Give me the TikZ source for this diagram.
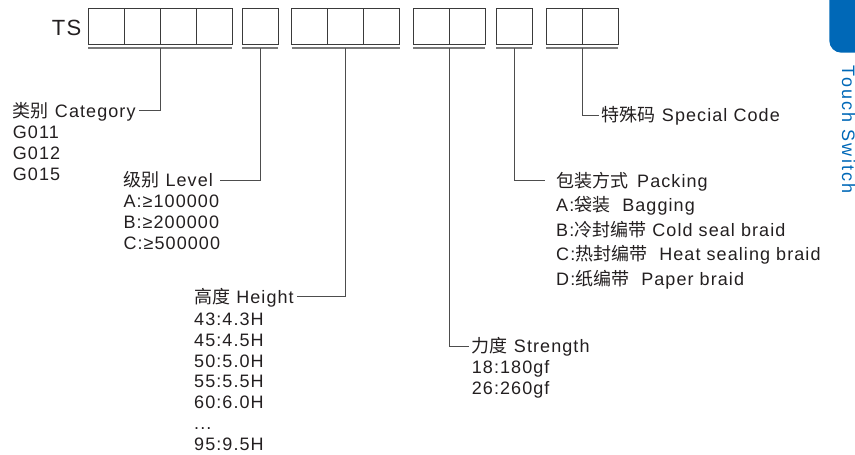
\documentclass[tikz,border=0pt]{standalone}
\usepackage{fontspec}
\setmainfont{Liberation Sans}[LetterSpace=6]
\newfontfamily\cjk{Noto Sans CJK SC}
\newfontfamily\tabfont{Liberation Sans}[LetterSpace=12]
\newcommand{\zh}[1]{{\cjk #1}}
\newcommand{\wgap}{\hspace{12pt}}
\usetikzlibrary{positioning}
\definecolor{ink}{HTML}{231F20}
\definecolor{boxline}{HTML}{3A3A3A}
\definecolor{rulegray}{HTML}{7A7A7A}
\definecolor{leadgray}{HTML}{4D4D4D}
\definecolor{tabblue}{HTML}{0068B7}

\begin{document}
\begin{tikzpicture}[x=1pt, y=-1pt,
    cell/.style={draw=boxline, line width=1pt, minimum width=36pt, minimum height=36pt, inner sep=0pt, outer sep=0pt},
    uline/.style={draw=rulegray, line width=1.3pt},
    leader/.style={draw=leadgray, line width=0.9pt, shorten >=3pt},
    title/.style={font=\fontsize{18}{20.7}\selectfont, text=ink, inner sep=0pt, text height=13pt, text depth=0pt, anchor=base west},
    items/.style={font=\fontsize{18}{20.7}\selectfont, text=ink, inner sep=0pt, align=left, anchor=base west}]
    \useasboundingbox (0,0) rectangle (855,455);

    % blue tab
    \fill[tabblue] (855,0) -- (829.3,0) -- (829.3,40.7) arc[start angle=180, end angle=270, radius=12pt] -- (855,52.7) -- cycle;
    \node[rotate=-90, anchor=base, inner sep=0pt, text=tabblue, font=\tabfont\fontsize{18}{20}\selectfont] (tab) at (842,129.7) {Touch Switch};

    % code boxes
    \node[anchor=base west, inner sep=0pt, text=ink, font=\fontsize{22}{24}\selectfont] (ts) at (51.7,35.7) {TS};

    \node[cell] (c1a) at (106.3,26) {};
    \node[cell, right=0pt of c1a] (c1b) {};
    \node[cell, right=0pt of c1b] (c1c) {};
    \node[cell, right=0pt of c1c] (c1d) {};

    \node[cell] (c2a) at (260.3,26) {};

    \node[cell] (c3a) at (309.7,26) {};
    \node[cell, right=0pt of c3a] (c3b) {};
    \node[cell, right=0pt of c3b] (c3c) {};

    \node[cell] (c4a) at (431.3,26) {};
    \node[cell, right=0pt of c4a] (c4b) {};

    \node[cell] (c5a) at (514.3,26) {};

    \node[cell] (c6a) at (564,26) {};
    \node[cell, right=0pt of c6a] (c6b) {};

    \draw[uline] ([yshift=-4pt]c1a.south west) -- ([yshift=-4pt]c1d.south east);
    \draw[uline] ([yshift=-4pt]c2a.south west) -- ([yshift=-4pt]c2a.south east);
    \draw[uline] ([yshift=-4pt]c3a.south west) -- ([yshift=-4pt]c3c.south east);
    \draw[uline] ([yshift=-4pt]c4a.south west) -- ([yshift=-4pt]c4b.south east);
    \draw[uline] ([yshift=-4pt]c5a.south west) -- ([yshift=-4pt]c5a.south east);
    \draw[uline] ([yshift=-4pt]c6a.south west) -- ([yshift=-4pt]c6b.south east);

    % fields (lists sit on the baseline of their last line)
    \node[title] (cat) at (12.7,117.3) {\zh{类别} Category};
    \node[items] (catlist) at (12.7,180) {G011\\G012\\G015};

    \node[title] (lev) at (123.3,186.7) {\zh{级别} Level};
    \node[items] (levlist) at (123.3,249) {A:≥100000\\B:≥200000\\C:≥500000};

    \node[title] (hgt) at (194,303.3) {\zh{高度} Height};
    \node[items] (hgtlist) at (194,450) {43:4.3H\\45:4.5H\\50:5.0H\\55:5.5H\\60:6.0H\\...\\95:9.5H};

    \node[title] (str) at (471.7,352.7) {\zh{力度} Strength};
    \node[items] (strlist) at (471.7,394) {18:180gf\\26:260gf};

    \node[title] (pack) at (556,187.3) {\zh{包装方式}\hspace{9pt}Packing};
    \node[items, font=\fontsize{18}{24.4}\selectfont] (packlist) at (556,285) {A:\zh{袋装}\wgap Bagging\\B:\zh{冷封编带} Cold seal braid\\C:\zh{热封编带}\wgap Heat sealing braid\\D:\zh{纸编带}\wgap Paper braid};

    \node[title] (spec) at (601.7,121.7) {\zh{特殊码} Special Code};

    \draw[leader] ([yshift=-4pt]c1b.south east) |- (cat.east);
    \draw[leader, shorten >=7pt] ([yshift=-4pt]c2a.south) |- (lev.east);
    \draw[leader] ([yshift=-4pt]c3b.south) |- (hgt.east);
    \draw[leader] ([yshift=-4pt]c4a.south east) |- (str.west);
    \draw[leader, shorten >=11pt] ([yshift=-4pt]c5a.south) |- (pack.west);
    \draw[leader, shorten >=2.5pt] ([yshift=-4pt]c6a.south east) |- (spec.west);
\end{tikzpicture}
\end{document}
